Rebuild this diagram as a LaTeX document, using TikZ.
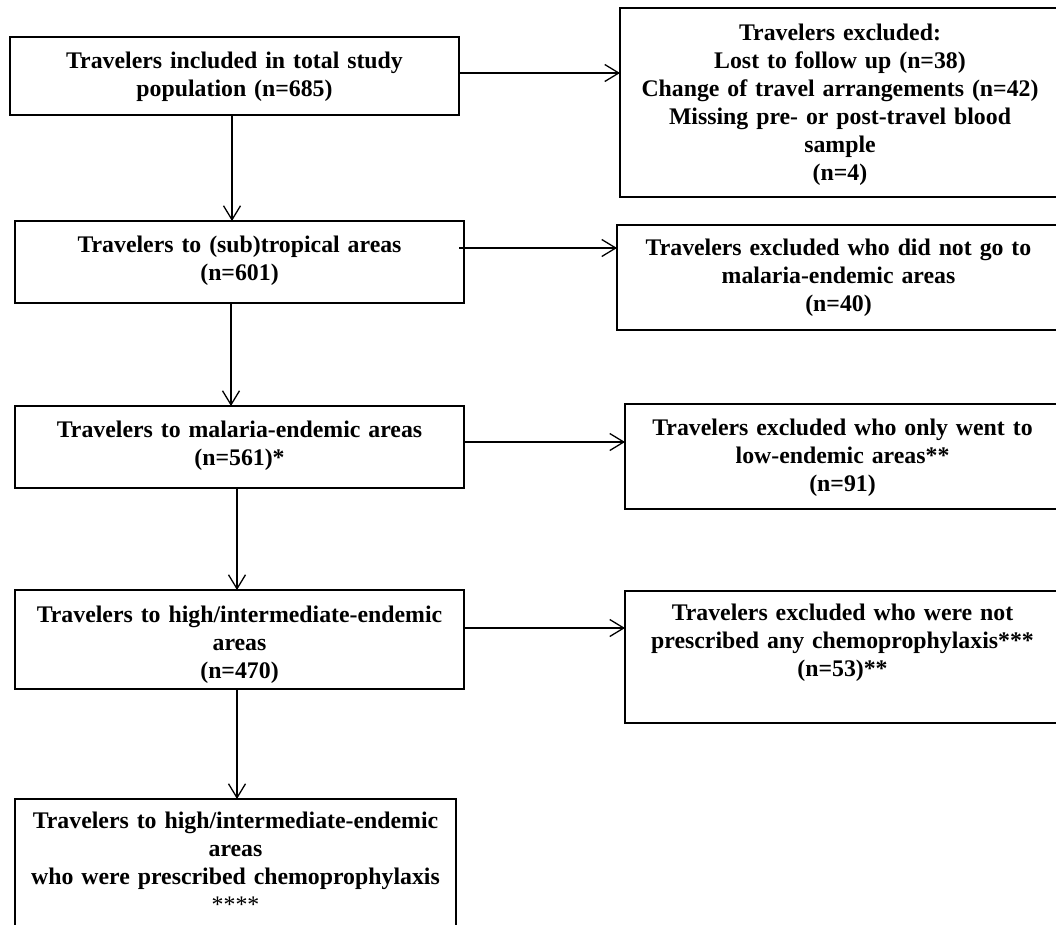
\documentclass[tikz,border=0pt]{standalone}
\usepackage{fontspec}
\setmainfont{Liberation Serif}
\usetikzlibrary{arrows.meta}

\tikzset{
  box/.style={draw, line width=1.4pt, inner sep=0pt, outer sep=0pt},
  boxtext/.style={anchor=base, align=center, text width=440pt, inner sep=0pt,
    font=\bfseries\fontsize{23.8}{28}\selectfont},
  arr/.style={line width=1.3pt, -{Straight Barb[length=14pt, width=17pt]}},
}

\begin{document}
\begin{tikzpicture}[x=1pt, y=-1pt]
        % Page frame
        \useasboundingbox (0,0) rectangle (1056,924);
        \clip (0,0) rectangle (1056,924);

        % Main column
        \node[box, minimum width=449pt, minimum height=78pt] (b1) at (234.5,76) {};
        \node[box, minimum width=449pt, minimum height=82pt] (b2) at (239.5,262) {};
        \node[box, minimum width=449pt, minimum height=82pt] (b3) at (239.5,447) {};
        \node[box, minimum width=449pt, minimum height=99pt] (b4) at (239.5,639.5) {};
        \node[box, minimum width=441pt, minimum height=151pt] (b5) at (235.5,874.5) {};

        % Excluded column (runs off the right edge)
        \node[box, minimum width=440pt, minimum height=189pt] (r1) at (840,102.5) {};
        \node[box, minimum width=443pt, minimum height=105pt] (r2) at (838.5,277.5) {};
        \node[box, minimum width=435pt, minimum height=105pt] (r3) at (842.5,456.5) {};
        \node[box, minimum width=435pt, minimum height=132pt] (r4) at (842.5,657) {};

        % Texts, top aligned in each box
        \node[boxtext] (t1) at ([yshift=-31pt]b1.north) {Travelers included in total study\\population (n=685)};
        \node[boxtext] (t2) at ([yshift=-31pt]b2.north) {Travelers to (sub)tropical areas\\(n=601)};
        \node[boxtext] (t3) at ([yshift=-31pt]b3.north) {Travelers to malaria-endemic areas\\(n=561)*};
        \node[boxtext] (t4) at ([yshift=-32pt]b4.north) {Travelers to high/intermediate-endemic\\areas\\(n=470)};
        \node[boxtext] (t5) at ([yshift=-29pt]b5.north) {Travelers to high/intermediate-endemic\\areas\\who were prescribed chemoprophylaxis\\{\mdseries ****}};
        \node[boxtext] (s1) at ([yshift=-32pt]r1.north) {Travelers excluded:\\Lost to follow up (n=38)\\Change of travel arrangements (n=42)\\Missing pre- or post-travel blood\\sample\\(n=4)};
        \node[boxtext] (s2) at ([yshift=-30pt]r2.north) {Travelers excluded who did not go to\\malaria-endemic areas\\(n=40)};
        \node[boxtext] (s3) at ([yshift=-31pt]r3.north) {Travelers excluded who only went to\\low-endemic areas**\\(n=91)};
        \node[boxtext] (s4) at ([yshift=-29pt]r4.north) {Travelers excluded who were not\\prescribed any chemoprophylaxis***\\(n=53)**};

        % Down arrows
        \coordinate (d1) at ([xshift=-2.5pt]b1.south);
        \coordinate (d2) at ([xshift=-8.5pt]b2.south);
        \coordinate (d3) at ([xshift=-2.5pt]b3.south);
        \coordinate (d4) at ([xshift=-2.5pt]b4.south);
        \draw[arr] (d1) -- (d1 |- b2.north);
        \draw[arr] (d2) -- (d2 |- b3.north);
        \draw[arr] (d3) -- (d3 |- b4.north);
        \draw[arr] (d4) -- (d4 |- b5.north);

        % Side arrows to the exclusions
        \coordinate (e1) at ([yshift=-36pt]b1.north east);
        \coordinate (e2) at ([xshift=-5pt, yshift=-27pt]b2.north east);
        \coordinate (e3) at ([yshift=-36pt]b3.north east);
        \coordinate (e4) at ([yshift=-38pt]b4.north east);
        \draw[arr] (e1) -- (e1 -| r1.west);
        \draw[arr] (e2) -- (e2 -| r2.west);
        \draw[arr] (e3) -- (e3 -| r3.west);
        \draw[arr] (e4) -- (e4 -| r4.west);
\end{tikzpicture}
\end{document}
